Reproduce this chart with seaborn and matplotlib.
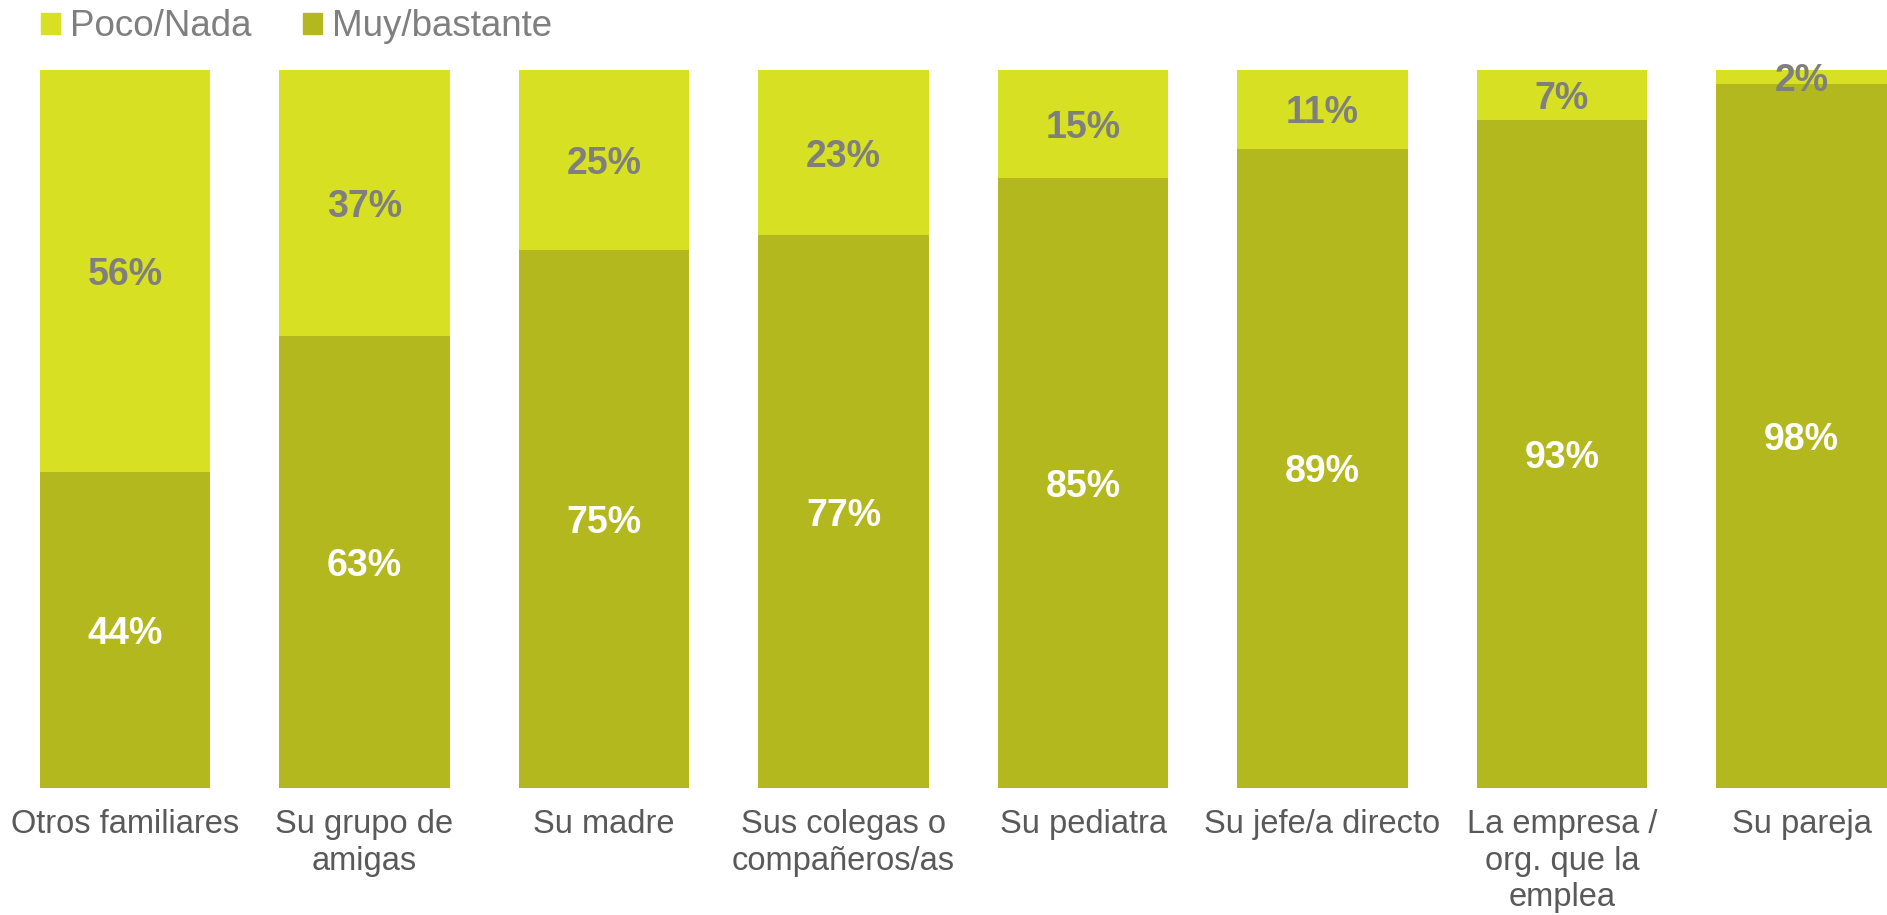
import matplotlib
matplotlib.use("Agg")
import matplotlib.pyplot as plt
import seaborn as sns
from matplotlib.patches import Patch

# Data
categories = [
    "Otros familiares",
    "Su grupo de\namigas",
    "Su madre",
    "Sus colegas o\ncompañeros/as",
    "Su pediatra",
    "Su jefe/a directo",
    "La empresa /\norg. que la\nemplea",
    "Su pareja",
]
muy_bastante = [44, 63, 75, 77, 85, 89, 93, 98]
poco_nada = [56, 37, 25, 23, 15, 11, 7, 2]

color_poco = "#D7E023"
color_muy = "#B2B81E"

sns.set_theme(style="white")
plt.rcParams["font.family"] = ["Liberation Sans", "DejaVu Sans"]

fig = plt.figure(figsize=(18.87, 9.15), dpi=100)
ax = fig.add_axes([0, 127 / 915, 1, 718 / 915])

totals = [m + p for m, p in zip(muy_bastante, poco_nada)]
# stacked bars: full height in the light colour, Muy/bastante drawn on top
sns.barplot(x=categories, y=totals, color=color_poco, width=0.71,
            saturation=1, linewidth=0, ax=ax)
sns.barplot(x=categories, y=muy_bastante, color=color_muy, width=0.71,
            saturation=1, linewidth=0, ax=ax)

for i, (m, p) in enumerate(zip(muy_bastante, poco_nada)):
    ax.text(i, m / 2, f"{m}%", ha="center", va="center_baseline",
            color="white", fontsize=27, fontweight="bold")
    ax.text(i, m + p / 2, f"{p}%", ha="center", va="center_baseline",
            color="#7F7F7F", fontsize=27, fontweight="bold")

ax.set_xlim(-125 / 239.5, (1887 - 125) / 239.5)
ax.set_ylim(0, 100)
ax.set_yticks([])
ax.set_ylabel("")
ax.set_xlabel("")
ax.tick_params(axis="x", length=0, pad=15, labelsize=23.5, labelcolor="#595959")
for lbl in ax.get_xticklabels():
    lbl.set_linespacing(1.24)
sns.despine(ax=ax, left=True, bottom=True)

handles = [Patch(color=color_poco, label="Poco/Nada"),
           Patch(color=color_muy, label="Muy/bastante")]
leg = fig.legend(handles=handles, loc="center left",
                 bbox_to_anchor=(41 / 1887, 1 - 27 / 915), ncol=2,
                 frameon=False, fontsize=26.5, handlelength=0.52,
                 handleheight=0.52, handletextpad=0.27, columnspacing=1.4,
                 borderpad=0, borderaxespad=0)
for t in leg.get_texts():
    t.set_color("#7F7F7F")

fig.savefig("out.png", dpi=100)
